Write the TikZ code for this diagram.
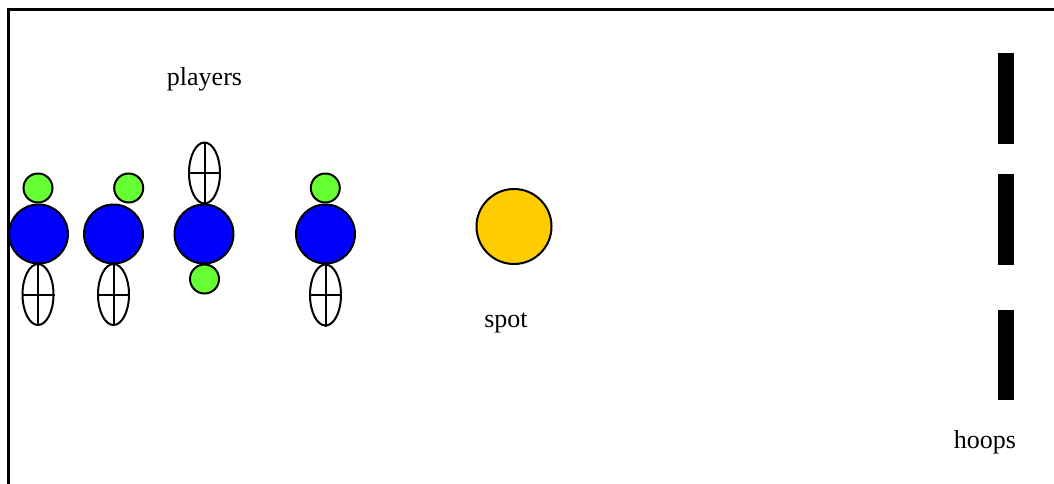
\documentclass[tikz,border=0pt]{standalone}
\usepackage{fontspec}
\setmainfont{Liberation Serif}
\usetikzlibrary{shapes.geometric}

\definecolor{bodyblue}{HTML}{0000FF}
\definecolor{headgreen}{HTML}{66FF33}
\definecolor{spotyellow}{HTML}{FFCC00}

\tikzset{
  body/.style={circle,draw,line width=2pt,fill=bodyblue,minimum size=59pt,inner sep=0pt},
  head/.style={circle,draw,line width=2pt,fill=headgreen,minimum size=29pt,inner sep=0pt},
  shoe/.style={ellipse,draw,line width=2pt,fill=white,minimum width=31pt,minimum height=61pt,inner sep=0pt},
  label/.style={font=\fontsize{26}{30}\selectfont,inner sep=0pt}
}

\begin{document}
\begin{tikzpicture}[x=1pt,y=-1pt]
  \useasboundingbox (0,0) rectangle (1054,483);
  \draw[line width=2.5pt] (8.5,490) -- (8.5,9.5) -- (1060,9.5);
  % players
  \node[body] (b1) at (38.5,234) {};
  \node[head] (h1) at (38,188) {};
  \node[shoe] (s1) at (38,294.5) {};
  \node[body] (b2) at (113.5,234) {};
  \node[head] (h2) at (128.7,188) {};
  \node[shoe] (s2) at (113.5,294.5) {};
  \node[body] (b3) at (204,234) {};
  \node[shoe] (s3) at (204.5,173) {};
  \node[head] (h3) at (204.5,279) {};
  \node[body] (b4) at (325.5,234) {};
  \node[head] (h4) at (325.3,188) {};
  \node[shoe] (s4) at (325.5,295) {};
  \foreach \s in {s1,s2,s3,s4}{
    \draw[line width=2pt] (\s.north) -- (\s.south);
    \draw[line width=2pt] (\s.west) -- (\s.east);
  }
  % spot
  \node[circle,draw,line width=2pt,fill=spotyellow,minimum size=75pt,inner sep=0pt] (spot) at (514,226.5) {};
  % hoops
  \fill (998,52.5) rectangle (1014,143.5);
  \fill (998,174) rectangle (1014,264.5);
  \fill (998,310) rectangle (1014,400);
  % texts
  \node[label] (players) at (204.5,79) {players};
  \node[label] (spotlbl) at (506,323) {spot};
  \node[label] (hoops) at (985,442) {hoops};
\end{tikzpicture}
\end{document}
